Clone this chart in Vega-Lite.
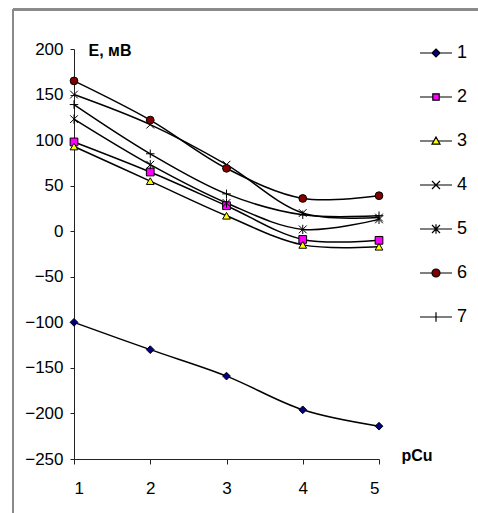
{
  "$schema": "https://vega.github.io/schema/vega-lite/v6.json",
  "width": 305,
  "height": 410,
  "autosize": "none",
  "padding": {"left": 74, "top": 49, "right": 99, "bottom": 54},
  "background": "white",
  "config": {
    "view": {"stroke": null},
    "font": "Liberation Sans",
    "axis": {"labelFont": "Liberation Sans", "titleFont": "Liberation Sans", "labelColor": "black", "titleColor": "black", "domainColor": "#222", "tickColor": "#222", "grid": false}
  },
  "data": {
    "values": [
      {"pCu": 1, "s": "1", "E": -100}, {"pCu": 2, "s": "1", "E": -130}, {"pCu": 3, "s": "1", "E": -159}, {"pCu": 4, "s": "1", "E": -196}, {"pCu": 5, "s": "1", "E": -214},
      {"pCu": 1, "s": "2", "E": 98}, {"pCu": 2, "s": "2", "E": 65}, {"pCu": 3, "s": "2", "E": 28}, {"pCu": 4, "s": "2", "E": -9}, {"pCu": 5, "s": "2", "E": -10},
      {"pCu": 1, "s": "3", "E": 93}, {"pCu": 2, "s": "3", "E": 55}, {"pCu": 3, "s": "3", "E": 17}, {"pCu": 4, "s": "3", "E": -15}, {"pCu": 5, "s": "3", "E": -17},
      {"pCu": 1, "s": "4", "E": 150}, {"pCu": 2, "s": "4", "E": 117}, {"pCu": 3, "s": "4", "E": 73}, {"pCu": 4, "s": "4", "E": 20}, {"pCu": 5, "s": "4", "E": 15},
      {"pCu": 1, "s": "5", "E": 123}, {"pCu": 2, "s": "5", "E": 73}, {"pCu": 3, "s": "5", "E": 31}, {"pCu": 4, "s": "5", "E": 2}, {"pCu": 5, "s": "5", "E": 13},
      {"pCu": 1, "s": "6", "E": 165}, {"pCu": 2, "s": "6", "E": 122}, {"pCu": 3, "s": "6", "E": 69}, {"pCu": 4, "s": "6", "E": 36}, {"pCu": 5, "s": "6", "E": 39},
      {"pCu": 1, "s": "7", "E": 139}, {"pCu": 2, "s": "7", "E": 85}, {"pCu": 3, "s": "7", "E": 41}, {"pCu": 4, "s": "7", "E": 18}, {"pCu": 5, "s": "7", "E": 17}
    ]
  },
  "encoding": {
    "x": {
      "field": "pCu", "type": "quantitative",
      "scale": {"domain": [1, 5], "nice": false, "zero": false},
      "axis": {"values": [1, 2, 3, 4, 5], "format": "d", "labelFontSize": 17, "tickSize": 5, "labelPadding": 16, "title": "pCu", "titleFontSize": 16, "titleFontWeight": "bold", "titleAngle": 0, "titleX": 327, "titleY": 1, "titleAlign": "left", "titleBaseline": "alphabetic"}
    },
    "y": {
      "field": "E", "type": "quantitative",
      "scale": {"domain": [-250, 200], "nice": false, "zero": false},
      "axis": {"values": [-250, -200, -150, -100, -50, 0, 50, 100, 150, 200], "labelFontSize": 17, "tickSize": 4, "labelPadding": 7, "title": "E, мВ", "titleFontSize": 16, "titleFontWeight": "bold", "titleAngle": 0, "titleX": 14, "titleY": 1, "titleAlign": "left", "titleBaseline": "middle"}
    }
  },
  "layer": [
    {
      "mark": {"type": "rule", "color": "#8a8a8a", "strokeWidth": 2, "clip": false},
      "encoding": {"x": {"datum": 0.2}, "y": {"datum": 243}, "y2": {"datum": -320}}
    },
    {
      "mark": {"type": "rule", "color": "#8a8a8a", "strokeWidth": 2, "clip": false},
      "encoding": {"y": {"datum": 243}, "x": {"datum": 0.2}, "x2": {"datum": 6.5}}
    },
    {
      "mark": {"type": "line", "interpolate": "catmull-rom", "color": "black", "strokeWidth": 1.5},
      "encoding": {"detail": {"field": "s"}}
    },
    {
      "mark": {"type": "point", "filled": false, "size": 60, "stroke": "black", "strokeWidth": 1, "opacity": 1},
      "encoding": {
        "shape": {
          "field": "s", "type": "nominal", "legend": null,
          "scale": {"domain": ["1", "2", "3", "4", "5", "6", "7"], "range": ["diamond", "square", "triangle-up", "M-1,-1L1,1M-1,1L1,-1", "M-1,-1L1,1M-1,1L1,-1M0,-1.2V1.2", "circle", "M0,-1.1V1.1M-1.1,0H1.1"]}
        },
        "fill": {
          "field": "s", "type": "nominal", "legend": null,
          "scale": {"domain": ["1", "2", "3", "4", "5", "6", "7"], "range": ["#000080", "#FF00FF", "#FFFF00", "transparent", "transparent", "#800000", "transparent"]}
        }
      }
    },
    {
      "mark": {"type": "point", "filled": false, "size": 64, "stroke": "black", "strokeWidth": 1, "opacity": 0},
      "encoding": {
        "shape": {
          "field": "s", "type": "nominal",
          "scale": {"domain": ["1", "2", "3", "4", "5", "6", "7"], "range": [
            "M-4,0H-1M1,0H4M0,-1L1,0L0,1L-1,0Z",
            "M-4,0H-0.8M0.8,0H4M-0.8,-0.8H0.8V0.8H-0.8Z",
            "M-4,0H-0.6M0.6,0H4M0,-1L1,0.8H-1Z",
            "M-4,0H4M-1,-1L1,1M-1,1L1,-1",
            "M-4,0H4M-1,-1L1,1M-1,1L1,-1M0,-1.2V1.2",
            "M-4,0H-1M1,0H4M-1,0A1,1 0 1,0 1,0A1,1 0 1,0 -1,0Z",
            "M-4,0H4M0,-1.2V1.2"
          ]},
          "legend": {"title": null, "orient": "none", "legendX": 353, "legendY": -5, "labelFontSize": 18, "labelFont": "Liberation Sans", "labelColor": "black", "labelOffset": 12, "rowPadding": 26, "symbolOpacity": 1, "symbolStrokeColor": "black", "symbolStrokeWidth": 1, "symbolSize": 64, "padding": 0,
            "encode": {"symbols": {"update": {"stroke": {"value": "black"}, "strokeWidth": {"value": 1.2}, "strokeOpacity": {"value": 1}, "opacity": {"value": 1}}}}}
        },
        "fill": {
          "field": "s", "type": "nominal",
          "scale": {"domain": ["1", "2", "3", "4", "5", "6", "7"], "range": ["#000080", "#FF00FF", "#FFFF00", "transparent", "transparent", "#800000", "transparent"]},
          "legend": {"title": null, "orient": "none", "legendX": 353, "legendY": -5, "labelFontSize": 18, "labelFont": "Liberation Sans", "labelColor": "black", "labelOffset": 12, "rowPadding": 26, "symbolOpacity": 1, "symbolStrokeColor": "black", "symbolStrokeWidth": 1, "symbolSize": 64, "padding": 0,
            "encode": {"symbols": {"update": {"stroke": {"value": "black"}, "strokeWidth": {"value": 1.2}, "strokeOpacity": {"value": 1}, "opacity": {"value": 1}}}}}
        }
      }
    }
  ],
  "resolve": {"scale": {"shape": "independent", "fill": "independent"}}
}
